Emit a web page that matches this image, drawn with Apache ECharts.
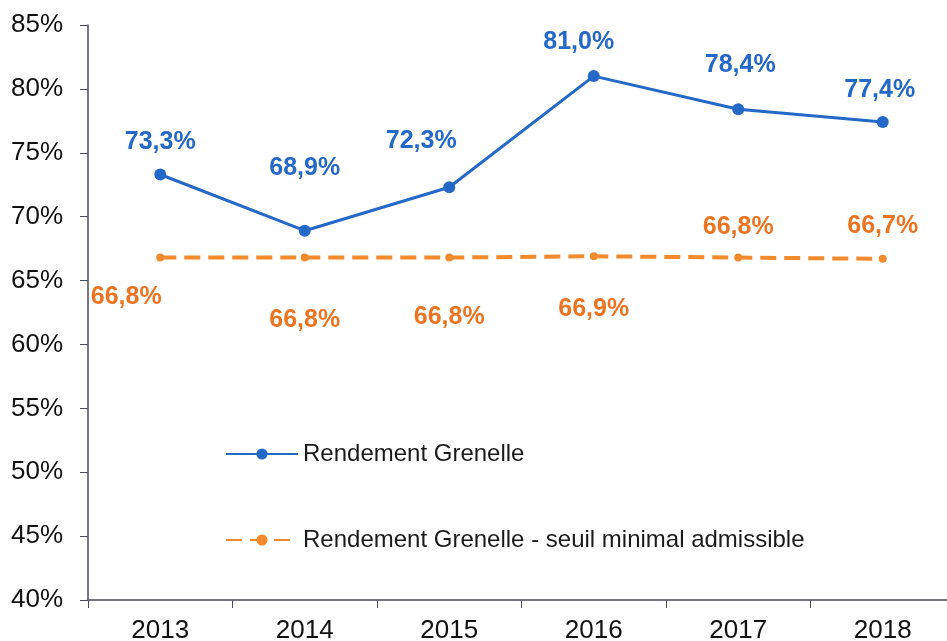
<!DOCTYPE html>
<html>
<head>
    <meta charset="utf-8" />
    <title>Rendement Grenelle</title>
    <script src="https://cdn.jsdelivr.net/npm/echarts@6/dist/echarts.min.js"></script>
    <style type="text/css">
        html, body { margin: 0; padding: 0; background: #fff; }
        #chart { width: 947px; height: 641px; }
    </style>
</head>
<body>
    <div id="chart"></div>
    <script>
        // données
        var years = ['2013', '2014', '2015', '2016', '2017', '2018'];
        var rendement = [73.3, 68.9, 72.3, 81.0, 78.4, 77.4];
        var seuil = [66.8, 66.8, 66.8, 66.9, 66.8, 66.7];

        // décalage des étiquettes (à la main, comme sur l'original)
        var blueOffsets = [[0, 2], [0, -28], [-28, -12], [-15, 0], [2, -10], [-3, 2]];
        var orangeOffsets = [[-34, 40], [0, 63], [0, 60], [0, 53], [0, 2], [0, 0]];
        var orangePos = ['inside', 'inside', 'inside', 'inside', 'top', 'top'];

        var fontFam = '"Liberation Sans", Arial, sans-serif';

        function fmt(v) {
            return v.toFixed(1).replace('.', ',') + '%';
        }

        var blueData = rendement.map(function (v, i) {
            return {
                value: v,
                label: { offset: blueOffsets[i] }
            };
        });
        var orangeData = seuil.map(function (v, i) {
            return {
                value: v,
                label: { position: orangePos[i], offset: orangeOffsets[i] }
            };
        });

        var myChart = echarts.init(document.getElementById('chart'));
        var option = {
            animation: false,
            grid: {
                left: 88, width: 867, top: 25, height: 575,
                outerBoundsMode: 'none', containLabel: false
            },
            legend: {
                orient: 'vertical',
                left: 220,
                top: 437,
                itemGap: 62,
                itemWidth: 72,
                itemHeight: 14,
                textStyle: { fontFamily: fontFam, fontSize: 24, color: '#1a1a1a' },
                data: ['Rendement Grenelle', 'Rendement Grenelle - seuil minimal admissible']
            },
            xAxis: {
                type: 'category',
                data: years,
                boundaryGap: true,
                axisLine: { lineStyle: { color: '#4a4a5a', width: 1.5 } },
                axisTick: { show: true, length: 8, lineStyle: { color: '#4a4a5a' } },
                axisLabel: { fontFamily: fontFam, fontSize: 26, color: '#111', margin: 18 }
            },
            yAxis: {
                type: 'value',
                min: 40,
                max: 85,
                interval: 5,
                splitLine: { show: false },
                axisLine: { show: true, lineStyle: { color: '#4a4a5a', width: 1.5 } },
                axisTick: { show: true, length: 8, lineStyle: { color: '#4a4a5a' } },
                axisLabel: {
                    fontFamily: fontFam, fontSize: 26, color: '#111', margin: 25,
                    formatter: '{value}%'
                }
            },
            series: [
                {
                    name: 'Rendement Grenelle',
                    type: 'line',
                    data: blueData,
                    symbol: 'circle',
                    symbolSize: 12,
                    lineStyle: { color: '#2468c8', width: 3 },
                    itemStyle: { color: '#2468c8' },
                    label: {
                        show: true,
                        position: 'top',
                        distance: 16,
                        formatter: function (p) { return fmt(p.value); },
                        fontFamily: fontFam,
                        fontSize: 25,
                        fontWeight: 'bold',
                        color: '#2468c8'
                    }
                },
                {
                    name: 'Rendement Grenelle - seuil minimal admissible',
                    type: 'line',
                    data: orangeData,
                    symbol: 'circle',
                    symbolSize: 8,
                    lineStyle: { color: '#f28a2e', width: 4, type: [16, 8] },
                    itemStyle: { color: '#f28a2e' },
                    label: {
                        show: true,
                        position: 'top',
                        distance: 16,
                        formatter: function (p) { return fmt(p.value); },
                        fontFamily: fontFam,
                        fontSize: 25,
                        fontWeight: 'bold',
                        color: '#ec7420'
                    }
                }
            ]
        };
        myChart.setOption(option);
    </script>
</body>
</html>
